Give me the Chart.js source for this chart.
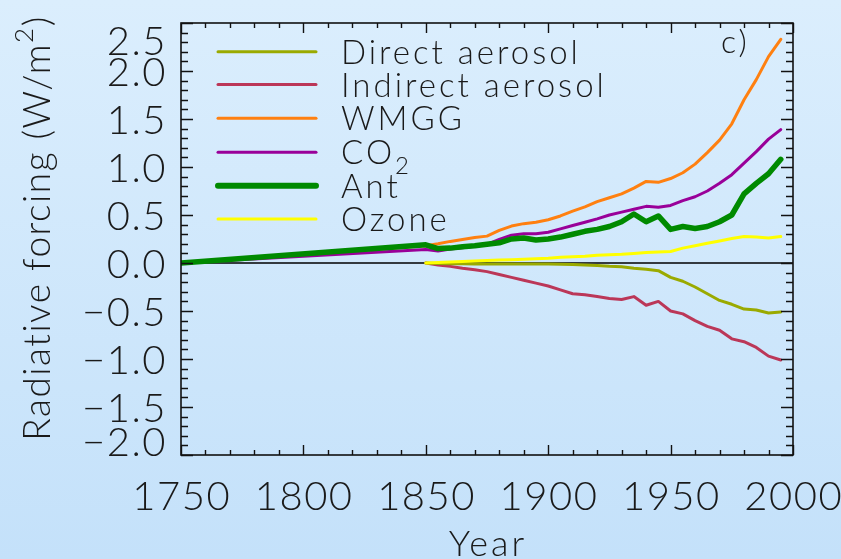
<!DOCTYPE html>
<html><head><meta charset="utf-8">
<script src="https://cdn.jsdelivr.net/npm/chart.js@4/dist/chart.umd.min.js"></script>
<style>
html,body{margin:0;padding:0;width:841px;height:559px;overflow:hidden;background:linear-gradient(to bottom,#dbeefd 0%,#c4e1fa 100%);}
canvas{display:block;}
</style></head><body>
<canvas id="c" width="841" height="559"></canvas>
<script>
// ---- data ----
const startYear = 1750;
const years = [1850,1855,1860,1865,1870,1875,1880,1885,1890,1895,1900,1905,1910,1915,1920,1925,1930,1935,1940,1945,1950,1955,1960,1965,1970,1975,1980,1985,1990,1995];
const directAerosol = [0,-0.005,-0.008,-0.008,-0.01,-0.01,-0.01,-0.01,-0.01,-0.01,-0.01,-0.012,-0.015,-0.02,-0.025,-0.035,-0.04,-0.055,-0.065,-0.08,-0.15,-0.19,-0.25,-0.32,-0.39,-0.43,-0.48,-0.49,-0.52,-0.51];
const indirectAerosol = [0,-0.02,-0.035,-0.055,-0.07,-0.09,-0.12,-0.15,-0.18,-0.21,-0.24,-0.28,-0.32,-0.33,-0.35,-0.37,-0.38,-0.35,-0.44,-0.40,-0.50,-0.53,-0.60,-0.66,-0.70,-0.79,-0.82,-0.88,-0.97,-1.01];
const wmgg = [0.18,0.2,0.225,0.245,0.265,0.28,0.34,0.385,0.41,0.425,0.45,0.49,0.54,0.585,0.64,0.68,0.72,0.78,0.85,0.84,0.88,0.94,1.03,1.15,1.28,1.45,1.70,1.91,2.15,2.33];
const co2 = [0.14,0.125,0.145,0.16,0.175,0.195,0.245,0.29,0.305,0.305,0.32,0.355,0.39,0.425,0.46,0.50,0.53,0.56,0.59,0.58,0.60,0.65,0.69,0.75,0.83,0.92,1.04,1.16,1.29,1.39];
const ant = [0.19,0.15,0.155,0.17,0.18,0.195,0.21,0.25,0.26,0.24,0.25,0.27,0.30,0.33,0.35,0.38,0.43,0.51,0.43,0.49,0.35,0.38,0.36,0.38,0.43,0.50,0.72,0.83,0.93,1.08];
const ozone = [0,0.005,0.01,0.015,0.02,0.025,0.03,0.035,0.04,0.045,0.05,0.06,0.065,0.07,0.08,0.085,0.09,0.10,0.11,0.115,0.12,0.155,0.18,0.205,0.23,0.255,0.275,0.27,0.26,0.275];
const seriesNames = ['Direct aerosol','Indirect aerosol','WMGG','CO2','Ant','Ozone'];
const xTickLabels = ['1750','1800','1850','1900','1950','2000'];
const yTickLabels = ['2.5','2.0','1.5','1.0','0.5','0.0','\u22120.5','\u22121.0','\u22121.5','\u22122.0'];
const yTickValues = [2.5,2.0,1.5,1.0,0.5,0.0,-0.5,-1.0,-1.5,-2.0];

// ---- build ----
function pts(vals, withStart){
  const a = years.map((y,i)=>({x:y,y:vals[i]}));
  if(withStart) a.unshift({x:startYear,y:0});
  return a;
}
const colors = {direct:'#9aaa00', indirect:'#bb3758', wmgg:'#ff8010', co2:'#990099', ant:'#008a00', ozone:'#ffff00'};
const FONT = 'Lato';
const W = 300;
const datasets = [
  {label:seriesNames[0], data:pts(directAerosol,false), borderColor:colors.direct, borderWidth:3, order:4},
  {label:seriesNames[1], data:pts(indirectAerosol,false), borderColor:colors.indirect, borderWidth:3, order:5},
  {label:seriesNames[2], data:pts(wmgg,true), borderColor:colors.wmgg, borderWidth:3, order:3},
  {label:seriesNames[3], data:pts(co2,true), borderColor:colors.co2, borderWidth:3, order:2},
  {label:seriesNames[4], data:pts(ant,true), borderColor:colors.ant, borderWidth:5.5, order:0},
  {label:seriesNames[5], data:pts(ozone,false), borderColor:colors.ozone, borderWidth:3, order:1},
];
datasets.forEach(d=>{d.pointRadius=0;d.fill=false;d.tension=0;d.borderJoinStyle='round';d.borderCapStyle='round';});

function setLS(ctx, v){ if('letterSpacing' in ctx) ctx.letterSpacing = v + 'px'; }

const decor = {
  id:'decor',
  beforeDatasetsDraw(chart){
    const {ctx, chartArea:a, scales:{y}} = chart;
    const y0 = y.getPixelForValue(0);
    ctx.save(); ctx.strokeStyle='#000'; ctx.lineWidth=1.3;
    ctx.beginPath(); ctx.moveTo(a.left,y0); ctx.lineTo(a.right,y0); ctx.stroke(); ctx.restore();
  },
  afterDatasetsDraw(chart){
    const {ctx, chartArea:a, scales:{x,y}} = chart;
    ctx.save();
    ctx.strokeStyle='#111'; ctx.lineWidth=1.6;
    ctx.strokeRect(a.left,a.top,a.right-a.left,a.bottom-a.top);
    ctx.lineWidth=1.4;
    ctx.beginPath();
    for(let v=-20; v<=25; v++){
      const py = Math.round(y.getPixelForValue(v/10))+0.5;
      const L = (v%5===0)?12:7;
      ctx.moveTo(a.left,py); ctx.lineTo(a.left+L,py);
      ctx.moveTo(a.right,py); ctx.lineTo(a.right-L,py);
    }
    for(let yr=1750; yr<=2000; yr+=10){
      const px = Math.round(x.getPixelForValue(yr))+0.5;
      const L = (yr%50===0)?10:5;
      ctx.moveTo(px,a.bottom); ctx.lineTo(px,a.bottom-L);
      ctx.moveTo(px,a.top); ctx.lineTo(px,a.top+L);
    }
    ctx.stroke();
    ctx.restore();
  },
  afterDraw(chart){
    const {ctx, chartArea:a, scales:{x,y}} = chart;
    ctx.save();
    ctx.fillStyle='#1a1a1a';
    // x tick labels
    ctx.font = `${W} 40px ${FONT}`;
    setLS(ctx, 1.5);
    ctx.textAlign='center'; ctx.textBaseline='alphabetic';
    xTickLabels.forEach(t=>{ ctx.fillText(t, x.getPixelForValue(+t)+0.75, 510); });
    // y tick labels
    ctx.textAlign='right';
    yTickValues.forEach((v,i)=>{
      let py = y.getPixelForValue(v);
      py = Math.max(a.top+17, Math.min(a.bottom-14, py));
      ctx.fillText(yTickLabels[i], 167, py+14.5);
    });
    // x title
    ctx.font = `${W} 36px ${FONT}`;
    setLS(ctx, 3);
    ctx.textAlign='center';
    ctx.fillText('Year', 488, 556);
    // y title with superscript
    ctx.save();
    ctx.translate(50, 228); ctx.rotate(-Math.PI/2);
    ctx.textAlign='left';
    setLS(ctx, 1.5);
    const p1='Radiative forcing (W/m', p2='2', p3=')';
    ctx.font = `${W} 37px ${FONT}`; const w1=ctx.measureText(p1).width, w3=ctx.measureText(p3).width;
    ctx.font = `${W} 26px ${FONT}`; const w2=ctx.measureText(p2).width;
    const tot=w1+w2+w3; let sx=-tot/2;
    ctx.font = `${W} 37px ${FONT}`; ctx.fillText(p1,sx,0); sx+=w1;
    ctx.font = `${W} 26px ${FONT}`; ctx.fillText(p2,sx,-17); sx+=w2;
    ctx.font = `${W} 37px ${FONT}`; ctx.fillText(p3,sx,0);
    ctx.restore();
    // panel label
    ctx.font = `${W} 32px ${FONT}`; ctx.textAlign='left';
    setLS(ctx, 3);
    ctx.fillText('c)', 721, 53);
    // legend
    const rows=[51.7,84.5,118.3,152.2,185.8,219];
    chart.data.datasets.forEach((d,i)=>{
      const ry=rows[i];
      ctx.strokeStyle=d.borderColor; ctx.lineWidth=(i===4)?6:3; ctx.lineCap='round';
      ctx.beginPath(); ctx.moveTo(218,ry); ctx.lineTo(316,ry); ctx.stroke();
      ctx.font = `${W} 33px ${FONT}`; ctx.textAlign='left'; ctx.fillStyle='#1a1a1a';
      setLS(ctx, 3);
      const name=d.label;
      if(name==='CO2'){
        ctx.fillText('CO',341,ry+12);
        const w=ctx.measureText('CO').width;
        ctx.font = `${W} 24px ${FONT}`; ctx.fillText('2',341+w,ry+22);
      } else {
        ctx.fillText(name,341,ry+12);
      }
    });
    ctx.restore();
  }
};

new Chart(document.getElementById('c'), {
  type:'line',
  data:{datasets},
  options:{
    responsive:false, animation:false, events:[],
    layout:{padding:{left:181,right:48,top:23,bottom:104}},
    plugins:{legend:{display:false}, tooltip:{enabled:false}},
    scales:{
      x:{type:'linear', min:1750, max:2000, display:false},
      y:{type:'linear', min:-2, max:2.5, display:false}
    }
  },
  plugins:[decor]
});
</script>
</body></html>
